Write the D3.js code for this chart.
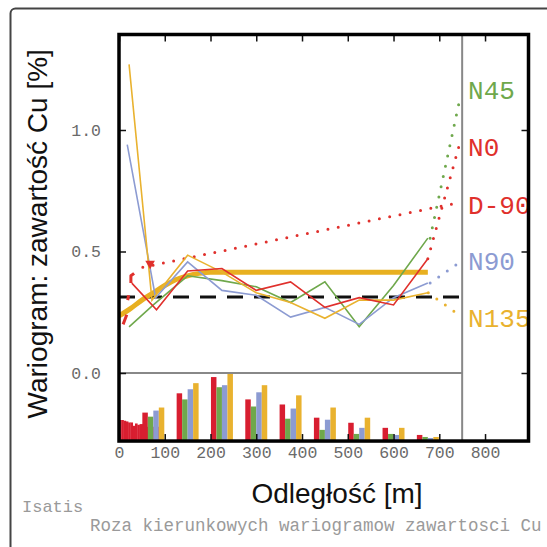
<!DOCTYPE html>
<html>
<head>
<meta charset="utf-8">
<script src="https://cdn.jsdelivr.net/npm/d3@7"></script>
<style>
  html, body { margin: 0; padding: 0; background: #fff; }
  svg { display: block; }
</style>
</head>
<body>
<div id="chart"></div>
<script>
// experimental variograms [distance m, gamma]
const n0Exp   = [[28,0.37],[82,0.26],[150,0.42],[225,0.43],[300,0.34],[375,0.375],[450,0.27],[525,0.31],[600,0.28],[675,0.47]];
const n45Exp  = [[22,0.19],[75,0.28],[150,0.40],[225,0.38],[300,0.355],[375,0.29],[450,0.375],[525,0.19],[600,0.36],[675,0.555]];
const n90Exp  = [[18,0.94],[80,0.31],[150,0.457],[225,0.34],[300,0.32],[375,0.23],[450,0.27],[525,0.20],[600,0.31],[675,0.37]];
const n135Exp = [[22,1.27],[72,0.30],[150,0.485],[225,0.415],[300,0.33],[375,0.29],[450,0.225],[525,0.30],[600,0.30],[675,0.33]];
const d90Segments = [
  [[9,0.20],[13,0.22],[17,0.24]],
  [[19,0.30],[21,0.32]],
  [[26,0.37],[26,0.40],[33,0.41]]
];
const d90Marker = [68, 0.45];

// fitted model + variance line
const modelPts = [[0,0.235],[25,0.265],[50,0.30],[75,0.33],[100,0.36],[125,0.385],[150,0.40],[175,0.41],[200,0.415],[675,0.415]];
const varianceValue = 0.313;
const varianceRange = [0, 745];

// dotted continuations toward the labels
const n45Dot  = [[680,0.555],[744,1.12]];
const n0Dot   = [[675,0.47],[744,0.94]];
const d90Dot  = [[52,0.435],[396,0.568],[740,0.70]];
const n90Dot  = [[680,0.37],[740,0.45]];
const n135Dot = [[676,0.33],[735,0.25]];

// direction labels
const labelNames  = ['N45', 'N0', 'D-90', 'N90', 'N135'];
const labelValues = [1.165, 0.93, 0.69, 0.46, 0.226];
const labelColors = ['#6fa84c', '#e0302c', '#e0302c', '#8c9bd2', '#e9b22f'];

// pair-count histogram
const histLags = [75,150,225,300,375,450,525,600,675];
const histN0   = [280,470,630,410,360,230,180,130,60];
const histN45  = [240,410,530,340,220,110,70,70,40];
const histN90  = [300,510,550,480,320,210,130,60,30];
const histN135 = [330,570,670,550,450,330,230,130,40];
const d90HistStart = [0,5,10,15,20,25,30,35,40,45,50,55,60,65,70,75,80,85];
const d90HistCount = [207,207,200,193,183,183,150,173,160,167,167,150,140,140,140,140,140,140];

const xTicks = [0,100,200,300,400,500,600,700,800];
const yTicks = [0, 0.5, 1.0];

const RED = '#e0302c', HRED = '#d81e30', GREEN = '#6fa84c', BLUE = '#8c9bd2', YELLOW = '#e9b22f';

const W = 547, H = 547;
const svg = d3.select('#chart').append('svg').attr('width', W).attr('height', H);
svg.append('rect').attr('width', W).attr('height', H).attr('fill', '#fff');

// outer frame
svg.append('rect')
  .attr('x', 10.5).attr('y', 8.5).attr('width', 620).attr('height', 620).attr('rx', 5)
  .attr('fill', 'none').attr('stroke', '#444').attr('stroke-width', 2);

const xMax = 895, yTop = 1.393, yBottom = -0.28;
const x = d3.scaleLinear().domain([0, xMax]).range([119, 528.5]);
const y = d3.scaleLinear().domain([0, 1]).range([373, 130]);
const yh = d3.scaleLinear().domain([0, 670]).range([y(yBottom), y(0)]);

const pLeft = x(0), pRight = x(xMax), pTop = y(yTop), pBottom = y(yBottom);

svg.append('defs').append('clipPath').attr('id', 'plot-clip')
  .append('rect').attr('x', pLeft).attr('y', pTop).attr('width', pRight - pLeft).attr('height', pBottom - pTop);

const plot = svg.append('g').attr('clip-path', 'url(#plot-clip)');

// histogram
const groups = [
  { vals: histN0,   off: -18, color: HRED },
  { vals: histN45,  off: -6,  color: GREEN },
  { vals: histN90,  off: 6,   color: BLUE },
  { vals: histN135, off: 18,  color: YELLOW }
];
const barW = 12;
plot.append('g').selectAll('rect')
  .data(d90HistStart.map((s, i) => ({ s, c: d90HistCount[i] })))
  .join('rect')
  .attr('x', d => x(d.s)).attr('width', d => x(d.s + 5) - x(d.s) + 0.3)
  .attr('y', d => yh(d.c)).attr('height', d => yh(0) - yh(d.c))
  .attr('fill', HRED);
groups.forEach(g => {
  plot.append('g').selectAll('rect')
    .data(histLags.map((l, i) => ({ l, v: g.vals[i] })))
    .join('rect')
    .attr('x', d => x(d.l + g.off - barW / 2))
    .attr('width', x(barW) - x(0))
    .attr('y', d => yh(d.v)).attr('height', d => yh(0) - yh(d.v))
    .attr('fill', g.color);
});

// grey separators
plot.append('line')
  .attr('x1', pLeft).attr('x2', x(750)).attr('y1', y(0)).attr('y2', y(0))
  .attr('stroke', '#888').attr('stroke-width', 2);
plot.append('line')
  .attr('x1', x(750)).attr('x2', x(750)).attr('y1', pTop).attr('y2', pBottom)
  .attr('stroke', '#888').attr('stroke-width', 2);

const line = d3.line().x(d => x(d[0])).y(d => y(d[1]));
const smooth = d3.line().x(d => x(d[0])).y(d => y(d[1])).curve(d3.curveMonotoneX);

// variance dashed line
plot.append('path')
  .attr('d', line(varianceRange.map(v => [v, varianceValue])))
  .attr('fill', 'none').attr('stroke', '#111').attr('stroke-width', 3)
  .attr('stroke-dasharray', '16,11');

// model
plot.append('path')
  .attr('d', smooth(modelPts))
  .attr('fill', 'none').attr('stroke', '#e8b020').attr('stroke-width', 5);

// dotted continuations
[[n45Dot, GREEN], [n0Dot, RED], [d90Dot, RED], [n90Dot, BLUE], [n135Dot, YELLOW]].forEach(([pts, c]) => {
  plot.append('path').attr('d', line(pts))
    .attr('fill', 'none').attr('stroke', c).attr('stroke-width', 3)
    .attr('stroke-linecap', 'round').attr('stroke-dasharray', '0,10.5');
});

// experimental variograms
[[n45Exp, GREEN], [n90Exp, BLUE], [n135Exp, YELLOW], [n0Exp, RED]].forEach(([pts, c]) => {
  plot.append('path').attr('d', line(pts))
    .attr('fill', 'none').attr('stroke', c).attr('stroke-width', 1.6);
});

// D-90 experimental (short lags)
d90Segments.forEach(seg => {
  plot.append('path').attr('d', line(seg))
    .attr('fill', 'none').attr('stroke', RED).attr('stroke-width', 3)
    .attr('stroke-linejoin', 'round');
});
plot.append('path')
  .attr('d', d3.symbol(d3.symbolTriangle, 40)())
  .attr('transform', `translate(${x(d90Marker[0])},${y(d90Marker[1])}) rotate(180)`)
  .attr('fill', RED);

// direction labels
plot.append('g').selectAll('text')
  .data(labelNames)
  .join('text')
  .attr('x', x(763)).attr('y', (d, i) => y(labelValues[i]))
  .attr('dy', '0.35em')
  .attr('fill', (d, i) => labelColors[i])
  .style('font-family', '"Liberation Mono", "DejaVu Sans Mono", monospace')
  .style('font-size', '26px')
  .text(d => d);

// axes (ticks inward)
const tickStyle = sel => {
  sel.select('.domain').remove();
  sel.selectAll('.tick line').attr('stroke', '#111').attr('stroke-width', 1.5);
  sel.selectAll('.tick text')
    .attr('fill', '#6a6a6a')
    .style('font-family', '"Liberation Mono", "DejaVu Sans Mono", monospace')
    .style('font-size', '16.5px');
};
svg.append('g').attr('transform', `translate(0,${pBottom})`)
  .call(d3.axisBottom(x).tickValues(xTicks).tickSizeInner(-7).tickSizeOuter(0).tickPadding(5))
  .call(tickStyle);
svg.append('g').attr('transform', `translate(0,${pTop})`)
  .call(d3.axisTop(x).tickValues(xTicks).tickSizeInner(-7).tickSizeOuter(0).tickFormat(''))
  .call(tickStyle);
svg.append('g').attr('transform', `translate(${pLeft},0)`)
  .call(d3.axisLeft(y).tickValues(yTicks).tickFormat(d3.format('.1f')).tickSizeInner(-7).tickSizeOuter(0).tickPadding(18))
  .call(tickStyle);
svg.append('g').attr('transform', `translate(${pRight},0)`)
  .call(d3.axisRight(y).tickValues(yTicks).tickSizeInner(-7).tickSizeOuter(0).tickFormat(''))
  .call(tickStyle);

// plot frame
svg.append('rect')
  .attr('x', pLeft).attr('y', pTop).attr('width', pRight - pLeft).attr('height', pBottom - pTop)
  .attr('fill', 'none').attr('stroke', '#000').attr('stroke-width', 3.5);

// titles
svg.append('text')
  .attr('transform', `translate(47,${(pTop + pBottom) / 2 - 4}) rotate(-90)`)
  .attr('text-anchor', 'middle')
  .style('font-family', '"Liberation Sans", Arial, sans-serif')
  .style('font-size', '28px').attr('fill', '#111')
  .text('Wariogram: zawartość Cu [%]');
svg.append('text')
  .attr('x', 337).attr('y', 503)
  .attr('text-anchor', 'middle')
  .style('font-family', '"Liberation Sans", Arial, sans-serif')
  .style('font-size', '28px').attr('fill', '#111')
  .text('Odległość [m]');

svg.append('text')
  .attr('x', 22).attr('y', 512)
  .style('font-family', '"Liberation Mono", monospace')
  .style('font-size', '17px').attr('fill', '#9a9a9a')
  .text('Isatis');
svg.append('text')
  .attr('x', 90).attr('y', 531)
  .style('font-family', '"Liberation Mono", monospace')
  .style('font-size', '17.5px').attr('fill', '#9a9a9a')
  .text('Roza kierunkowych wariogramow zawartosci Cu');
</script>
</body>
</html>
